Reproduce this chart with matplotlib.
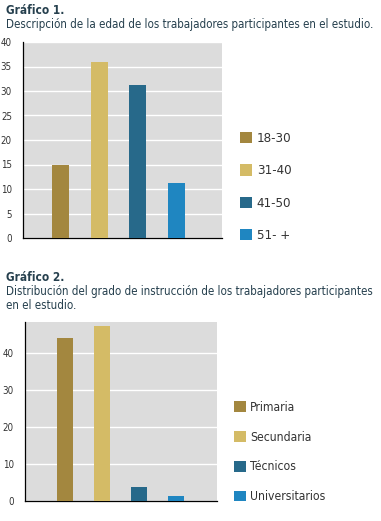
import matplotlib.pyplot as plt

W, H = 381, 521

edades = ['18-30', '31-40', '41-50', '51- +']
edad_valores = [15, 36, 31.3, 11.3]

grados = ['Primaria', 'Secundaria', 'Técnicos', 'Universitarios']
grado_valores = [44.2, 47.4, 3.9, 1.4]

colores = ['#a3873f', '#d4bb66', '#27698a', '#1f86c1']
fondo = '#dcdcdc'
texto = '#26404e'
fam = ['DejaVu Sans']
stretch = 'condensed'


def px_axes(fig, x0, x1, y_top, y_bot):
    return fig.add_axes([x0 / W, 1 - y_bot / H, (x1 - x0) / W, (y_bot - y_top) / H])


def draw(ax, vals, ymax, ticks, xlim, width):
    ax.set_facecolor(fondo)
    bars = ax.bar(range(len(vals)), vals, width=width, color=colores, zorder=3)
    ax.set_ylim(0, ymax)
    ax.set_xlim(*xlim)
    ax.set_yticks(ticks)
    ax.yaxis.grid(True, color='white', linewidth=1.0, zorder=1)
    ax.set_xticks([])
    for s in ['top', 'right']:
        ax.spines[s].set_visible(False)
    ax.spines['left'].set_linewidth(0.9)
    ax.spines['bottom'].set_linewidth(0.9)
    ax.tick_params(axis='y', length=0, labelsize=7, labelcolor='#333333', pad=8)
    for lab in ax.get_yticklabels():
        lab.set_family(fam)
        lab.set_fontstretch(stretch)
    return bars


def style_legend(leg):
    for t in leg.get_texts():
        t.set_color('#333333')
        t.set_family(fam)
        t.set_fontstretch(stretch)


fig = plt.figure(figsize=(W / 100, H / 100), dpi=100)

fig.text(6 / W, 1 - 4 / H, 'Gráfico 1.', ha='left', va='top', fontsize=8.5,
         fontweight='bold', color=texto, family=fam, fontstretch=stretch)
fig.text(6 / W, 1 - 18 / H,
         'Descripción de la edad de los trabajadores participantes en el estudio.',
         ha='left', va='top', fontsize=8.3, color=texto, family=fam, fontstretch=stretch)

ax1 = px_axes(fig, 23, 222, 42, 238)
b1 = draw(ax1, edad_valores, 40, range(0, 41, 5), (-0.97, 4.18), 0.44)
leg1 = ax1.legend(b1, edades, loc='center left', bbox_to_anchor=(233 / W, 1 - 187 / H),
                  bbox_transform=fig.transFigure, frameon=False, fontsize=9.5,
                  handlelength=0.95, handleheight=0.95, handletextpad=0.35,
                  labelspacing=1.45, borderpad=0)
style_legend(leg1)

fig.text(6 / W, 1 - 271 / H, 'Gráfico 2.', ha='left', va='top', fontsize=8.5,
         fontweight='bold', color=texto, family=fam, fontstretch=stretch)
fig.text(6 / W, 1 - 285 / H,
         'Distribución del grado de instrucción de los trabajadores participantes\nen el estudio.',
         ha='left', va='top', fontsize=8.3, color=texto, family=fam, linespacing=1.1,
         fontstretch=stretch)

ax2 = px_axes(fig, 25, 217, 322, 501)
b2 = draw(ax2, grado_valores, 48.4, range(0, 41, 10), (-1.08, 4.1), 0.43)
leg2 = ax2.legend(b2, grados, loc='center left', bbox_to_anchor=(228 / W, 1 - 452 / H),
                  bbox_transform=fig.transFigure, frameon=False, fontsize=8.7,
                  handlelength=0.95, handleheight=0.95, handletextpad=0.35,
                  labelspacing=1.4, borderpad=0)
style_legend(leg2)

fig.savefig('out.png', dpi=100)
